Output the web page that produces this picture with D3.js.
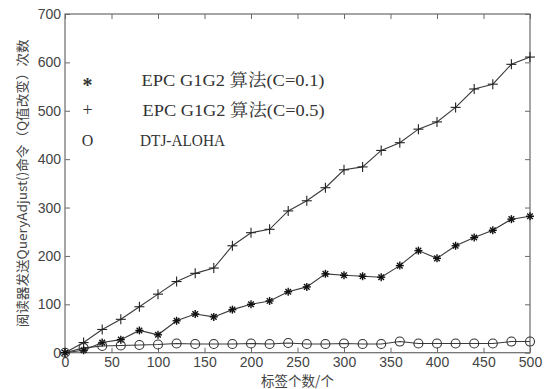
<!DOCTYPE html>
<html><head><meta charset="utf-8">
<script src="https://cdn.jsdelivr.net/npm/d3@7"></script>
<style>body{margin:0;background:#fff;} svg{display:block;}</style>
</head><body>
<svg id="c" width="554" height="389"></svg>
<script>
const tags = [0,20,40,60,80,100,120,140,160,180,200,220,240,260,280,300,320,340,360,380,400,420,440,460,480,500];
const epcC05 = [0,21,48,69,95,121,147,164,175,221,248,255,293,314,341,378,384,418,434,462,477,507,545,555,596,611];
const epcC01 = [0,5,21,27,46,37,66,80,74,89,100,107,126,136,163,160,158,156,180,211,195,221,238,253,276,282];
const dtj    = [0,10,14,15,16,17,19,18,18,18,19,18,20,18,18,19,18,18,23,19,19,19,19,19,23,23];
const xTicks = [0,50,100,150,200,250,300,350,400,450,500];
const yTicks = [0,100,200,300,400,500,600,700];
const legendLabels = ["EPC G1G2 算法(C=0.1)","EPC G1G2 算法(C=0.5)","DTJ-ALOHA"];
const legendSymbols = ["*","+","O"];
const xLabel = "标签个数/个";
const yLabel = "阅读器发送QueryAdjust()命令（Q值改变）次数";

const svg = d3.select("#c");
const L=65, R=530, T=14, B=352.7;
const x = d3.scaleLinear().domain([0,500]).range([L,R]);
const y = d3.scaleLinear().domain([0,700]).range([B,T]);
const axisColor="#6a6a6a", textColor="#444";

svg.append("rect").attr("x",L).attr("y",T).attr("width",R-L).attr("height",B-T)
  .attr("fill","none").attr("stroke",axisColor).attr("stroke-width",1.2);

function styleAxis(g){
  g.select(".domain").remove();
  g.selectAll("line").attr("stroke",axisColor).attr("stroke-width",1);
  g.selectAll("text").attr("fill",textColor).attr("font-family","Liberation Sans, Arial, sans-serif").attr("font-size","14px");
}
svg.append("g").attr("transform",`translate(0,${B})`)
  .call(d3.axisBottom(x).tickValues(xTicks).tickSizeInner(-5).tickSizeOuter(0).tickPadding(4))
  .call(styleAxis);
svg.append("g").attr("transform",`translate(0,${T})`)
  .call(d3.axisTop(x).tickValues(xTicks).tickSizeInner(-5).tickSizeOuter(0).tickFormat(""))
  .call(styleAxis);
svg.append("g").attr("transform",`translate(${L},0)`)
  .call(d3.axisLeft(y).tickValues(yTicks).tickSizeInner(-5).tickSizeOuter(0).tickPadding(4))
  .call(styleAxis);
svg.append("g").attr("transform",`translate(${R},0)`)
  .call(d3.axisRight(y).tickValues(yTicks).tickSizeInner(-5).tickSizeOuter(0).tickFormat(""))
  .call(styleAxis);

const line = d3.line().x((d,i)=>x(tags[i])).y(d=>y(d));
const lineColor="#3a3a3a";
[epcC05, epcC01, dtj].forEach(s=>{
  svg.append("path").datum(s).attr("d",line).attr("fill","none")
    .attr("stroke",lineColor).attr("stroke-width",1.1);
});

const gp = svg.append("g").attr("stroke","#222").attr("stroke-width",1.1);
epcC05.forEach((v,i)=>{
  const cx=x(tags[i]), cy=y(v), s=5;
  gp.append("line").attr("x1",cx-s).attr("x2",cx+s).attr("y1",cy).attr("y2",cy);
  gp.append("line").attr("x1",cx).attr("x2",cx).attr("y1",cy-s).attr("y2",cy+s);
});
const gs = svg.append("g").attr("stroke","#111").attr("stroke-width",1.4);
epcC01.forEach((v,i)=>{
  const cx=x(tags[i]), cy=y(v), s=4;
  gs.append("line").attr("x1",cx-s).attr("x2",cx+s).attr("y1",cy).attr("y2",cy);
  gs.append("line").attr("x1",cx).attr("x2",cx).attr("y1",cy-s).attr("y2",cy+s);
  gs.append("line").attr("x1",cx-s*0.7).attr("x2",cx+s*0.7).attr("y1",cy-s*0.7).attr("y2",cy+s*0.7);
  gs.append("line").attr("x1",cx-s*0.7).attr("x2",cx+s*0.7).attr("y1",cy+s*0.7).attr("y2",cy-s*0.7);
});
svg.append("g").selectAll("circle").data(dtj).join("circle")
  .attr("cx",(d,i)=>x(tags[i])).attr("cy",d=>y(d)).attr("r",4.5)
  .attr("fill","none").attr("stroke","#333").attr("stroke-width",1.1);

const legY=[80.5,110,140];
const legTX=[141.5,142.5,140];
const legW=[183,182,85];
legendSymbols.forEach((s,i)=>{
  svg.append("text").attr("x",87.5).attr("y",legY[i] + (i===0?4:0)).attr("dy","0.35em")
    .attr("text-anchor","middle").attr("font-family","Liberation Serif, serif")
    .attr("font-weight", i===0?"bold":"normal")
    .attr("font-size", i===1?"18px":(i===0?"20px":"16px")).attr("fill","#333").text(s);
  svg.append("text").attr("x",legTX[i]).attr("y",legY[i]).attr("dy","0.35em")
    .attr("font-family","Liberation Serif, Noto Serif CJK SC, serif").attr("font-size","17px")
    .attr("fill","#333").attr("textLength",legW[i]).attr("lengthAdjust","spacingAndGlyphs").text(legendLabels[i]);
});

svg.append("text").attr("x",(L+R)/2).attr("y",381).attr("dy","0.35em").attr("text-anchor","middle")
  .attr("font-family","Noto Sans CJK SC, sans-serif").attr("font-size","13.5px").attr("fill",textColor).text(xLabel);
svg.append("text").attr("transform",`translate(22,${(T+B)/2}) rotate(-90)`).attr("dy","0.35em")
  .attr("text-anchor","middle").attr("font-family","Noto Sans CJK SC, sans-serif").attr("font-size","13px")
  .attr("fill",textColor).attr("textLength",288).attr("lengthAdjust","spacingAndGlyphs").text(yLabel);
</script>
</body></html>
